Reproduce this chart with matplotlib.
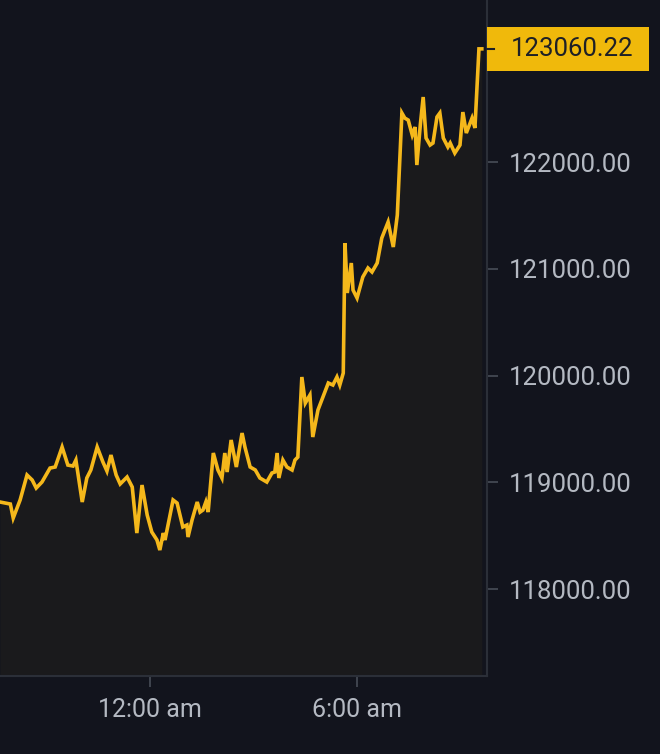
import matplotlib
matplotlib.use("Agg")
import matplotlib.pyplot as plt
from matplotlib.patches import Rectangle
from matplotlib.lines import Line2D

# ---- data (minutes relative to 12:00 am, BTC price) ----
minutes = [-261, -243, -238, -226, -214, -205, -198, -188, -174, -165, -153, -143, -134, -129,
           -118, -110, -103, -92, -82, -75, -68, -59, -52, -40, -31, -23, -14, -5, 3, 12, 17,
           23, 26, 40, 47, 57, 64, 66, 73, 82, 87, 92, 97, 101, 110, 118, 125, 130, 134, 141,
           150, 160, 165, 174, 183, 191, 203, 212, 217, 221, 224, 231, 238, 247, 252, 257, 264,
           270, 278, 283, 292, 310, 318, 325, 330, 336, 339, 343, 350, 353, 360, 370, 379, 386,
           395, 403, 414, 423, 430, 438, 443, 449, 456, 461, 464, 470, 475, 480, 487, 492, 499,
           504, 510, 518, 522, 530, 539, 544, 550, 560, 565, 572, 577]
prices = [118815, 118796, 118665, 118834, 119068, 119021, 118946, 119002, 119133, 119143,
          119330, 119161, 119152, 119208, 118815, 119040, 119115, 119330, 119190, 119105,
          119255, 119068, 118984, 119049, 118955, 118524, 118974, 118693, 118534, 118459,
          118365, 118524, 118459, 118834, 118805, 118581, 118599, 118487, 118646, 118815,
          118721, 118740, 118815, 118721, 119274, 119115, 119040, 119274, 119096, 119396,
          119143, 119461, 119330, 119143, 119115, 119040, 119002, 119087, 119096, 119274,
          119040, 119208, 119143, 119115, 119208, 119236, 119986, 119742, 119817, 119424,
          119677, 119930, 119911, 119986, 119911, 120023, 121241, 120773, 121054, 120801,
          120726, 120923, 121007, 120970, 121054, 121288, 121438, 121204, 121503, 122459,
          122412, 122393, 122253, 122328, 121972, 122347, 122609, 122225, 122159, 122178,
          122422, 122459, 122225, 122141, 122178, 122084, 122159, 122468, 122272, 122412,
          122319, 123060.22, 123060.22]
y_ticks = [118000, 119000, 120000, 121000, 122000]
x_ticks = [0, 360]
x_tick_labels = ["12:00 am", "6:00 am"]
last_price = prices[-1]

# ---- style ----
BG = "#12141d"
LINE = "#f5b81b"
GRID = "#2b2f38"
TXT = "#b4b9c2"
FONT = ["Roboto", "DejaVu Sans"]

W, H = 660, 754
fig = plt.figure(figsize=(W / 100, H / 100), dpi=100, facecolor=BG)
ax = fig.add_axes([0, 1 - 676 / H, 487 / W, 676 / H])
ax.set_facecolor(BG)

ax.fill_between(minutes, prices, 117000, color=LINE, alpha=0.04, linewidth=0)
ax.plot(minutes, prices, color=LINE, linewidth=2.6, solid_joinstyle="miter")

ax.set_xlim(-261, 586)
ax.set_ylim(117185, 123518)

for s in ["top", "left"]:
    ax.spines[s].set_visible(False)
for s in ["right", "bottom"]:
    ax.spines[s].set_color(GRID)
    ax.spines[s].set_linewidth(1.5)

ax.yaxis.tick_right()
ax.set_yticks(y_ticks)
ax.set_yticklabels([f"{v:.2f}" for v in y_ticks], fontfamily=FONT, fontsize=18.5, color=TXT)
ax.tick_params(axis="y", direction="out", length=8, width=1.2, color="#474d57", pad=8)
ax.set_xticks(x_ticks)
ax.set_xticklabels(x_tick_labels, fontfamily=FONT, fontsize=18, color=TXT)
ax.tick_params(axis="x", direction="out", length=8, width=1.2, color="#474d57", pad=8)

# ---- last price label ----
fig.canvas.draw()
_, py = ax.transData.transform((0, last_price))
box_h = 44
fig.patches.append(Rectangle((487 / W, (py - box_h / 2) / H), 162 / W, box_h / H,
                             transform=fig.transFigure, facecolor="#f0b90b",
                             edgecolor="none", zorder=5))
fig.lines.append(Line2D([487 / W, 494 / W], [py / H, py / H], transform=fig.transFigure,
                        color="#1e2026", linewidth=1.5, zorder=6))
fig.text(511 / W, py / H, f"{last_price:.2f}", fontfamily=FONT, fontsize=18.5,
         color="#1e2026", va="center", ha="left", zorder=7)

fig.savefig("out.png", dpi=100, facecolor=BG)
